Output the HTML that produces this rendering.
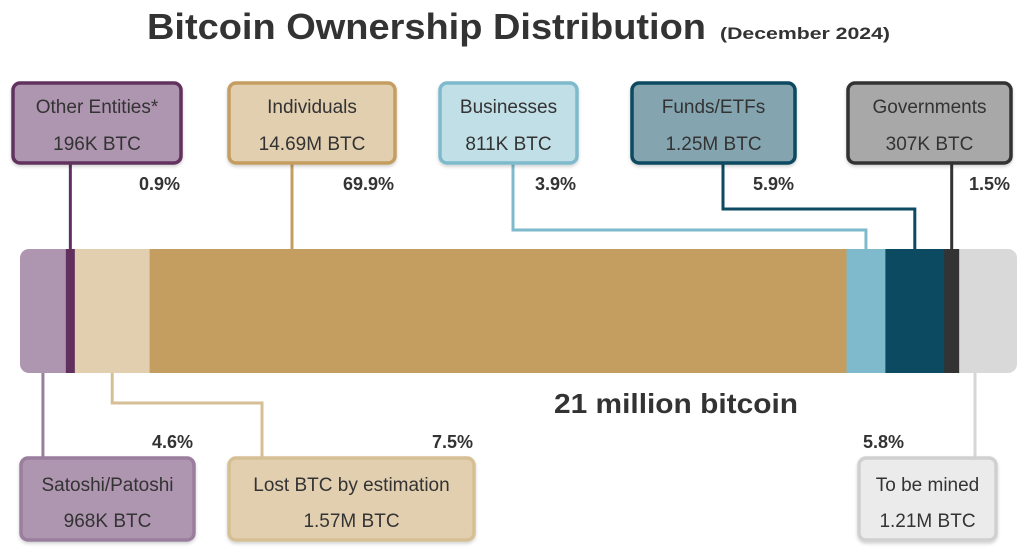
<!DOCTYPE html>
<html><head><meta charset="utf-8"><style>
html,body{margin:0;padding:0;background:#fff}
svg{display:block}
text{font-family:"Liberation Sans",sans-serif;fill:#333}
</style></head><body>
<svg id="chart" width="1024" height="555" viewBox="0 0 1024 555">
<defs>
<clipPath id="barclip"><rect x="20" y="249" width="997" height="124" rx="9"/></clipPath>
<filter id="sh" x="-10%" y="-10%" width="120%" height="130%"><feDropShadow dx="0" dy="2" stdDeviation="1.5" flood-color="#000" flood-opacity="0.18"/></filter>
</defs>
<text x="147" y="39" font-size="36" font-weight="bold" textLength="559" lengthAdjust="spacingAndGlyphs">Bitcoin Ownership Distribution</text>
<text x="720" y="39" font-size="17" font-weight="bold" textLength="170" lengthAdjust="spacingAndGlyphs">(December 2024)</text>
<g id="bar" clip-path="url(#barclip)"></g>
<g id="conn"></g>
<g id="boxes"></g>
<text x="554" y="413" font-size="28" font-weight="bold" textLength="244" lengthAdjust="spacingAndGlyphs">21 million bitcoin</text>
</svg>
<script>
const categories = ["Satoshi/Patoshi","Other Entities*","Lost BTC by estimation","Individuals","Businesses","Funds/ETFs","Governments","To be mined"];
const shares = [4.6,0.9,7.5,69.9,3.9,5.9,1.5,5.8];
const amounts = ["968K BTC","196K BTC","1.57M BTC","14.69M BTC","811K BTC","1.25M BTC","307K BTC","1.21M BTC"];
const pctLabels = ["4.6%","0.9%","7.5%","69.9%","3.9%","5.9%","1.5%","5.8%"];
const barFill = ["#ae95b0","#62305f","#e2cfb0","#c39e60","#7ebacc","#0b4a61","#333333","#d9d9d9"];
const boxFill = ["#ae95b0","#ae95b0","#e2cfb0","#e2cfb0","#c1dfe6","#84a5b0","#a8a8a8","#ebebeb"];
const boxStroke = ["#9a7e9d","#62305f","#d6bf94","#c39e60","#7ebacc","#0b4a61","#333333","#d0d0d0"];
// layout (not data)
const layout = [
 {side:"b",bx:21,bw:173,attach:"c",mid:null},
 {side:"t",bx:13,bw:168,attach:"c",mid:null},
 {side:"b",bx:229,bw:245,attach:"c",mid:403},
 {side:"t",bx:229,bw:166,attach:"box",mid:null},
 {side:"t",bx:440,bw:137,attach:"c",mid:230,lx:513},
 {side:"t",bx:632,bw:163,attach:"c",mid:209,lx:723},
 {side:"t",bx:848,bw:163,attach:"c",mid:null},
 {side:"b",bx:859,bw:137,attach:"box2",mid:null}
];
const X0=20,W=997,BY=249,BH=124;
const total=shares.reduce((a,b)=>a+b,0);
const xs=v=>X0+v/total*W;
const NS="http://www.w3.org/2000/svg";
function mk(tag,attrs,parent){const e=document.createElementNS(NS,tag);for(const k in attrs)e.setAttribute(k,attrs[k]);parent.appendChild(e);return e;}
const gBar=document.getElementById('bar'),gConn=document.getElementById('conn'),gBox=document.getElementById('boxes');
let cum=0;
shares.forEach((s,i)=>{
  const x1=xs(cum),x2=xs(cum+s);cum+=s;
  const r=mk('rect',{x:x1,y:BY,width:x2-x1+0.5,height:BH,fill:barFill[i]},gBar);
  
  
  const L=layout[i];
  let ax=(x1+x2)/2;
  if(L.attach==="box") ax=L.bx+63;
  if(L.attach==="box2") ax=L.bx+116;
  const top=L.side==="t";
  const boxY=top?83:458, boxH=top?80:82;
  const lx=L.lx!==undefined?L.lx:(L.mid!==null?L.bx+33:ax);
  let pts;
  if(top){
    pts=L.mid!==null?[[lx,boxY+boxH],[lx,L.mid],[ax,L.mid],[ax,BY]]:[[ax,boxY+boxH],[ax,BY]];
  }else{
    pts=L.mid!==null?[[ax,BY+BH],[ax,L.mid],[lx,L.mid],[lx,boxY]]:[[ax,BY+BH],[ax,boxY]];
  }
  const pl=mk('polyline',{points:pts.map(p=>p.join(',')).join(' '),fill:'none',stroke:boxStroke[i]==="#d0d0d0"?"#d6d6d6":boxStroke[i],'stroke-width':3},gConn);
  
  
  const g=mk('g',{},gBox);
  
  
  mk('rect',{x:L.bx,y:boxY,width:L.bw,height:boxH,rx:7,fill:boxFill[i],stroke:boxStroke[i],'stroke-width':3.5,filter:'url(#sh)'},g);
  const cx=L.bx+L.bw/2;
  const t1=mk('text',{x:cx,y:boxY+(top?30:33),'font-size':19,'text-anchor':'middle'},g);t1.textContent=categories[i];
  
  
  const t2=mk('text',{x:cx,y:boxY+(top?67:69),'font-size':19,'text-anchor':'middle'},g);t2.textContent=amounts[i];
  
  
  const pt=mk('text',{x:L.side==="b"&&i===7?L.bx+4:L.bx+L.bw-1,y:top?190:448,'font-size':18,'font-weight':'bold','text-anchor':L.side==="b"&&i===7?'start':'end'},gConn);
  pt.textContent=pctLabels[i];
  
  
});
</script>
</body></html>
